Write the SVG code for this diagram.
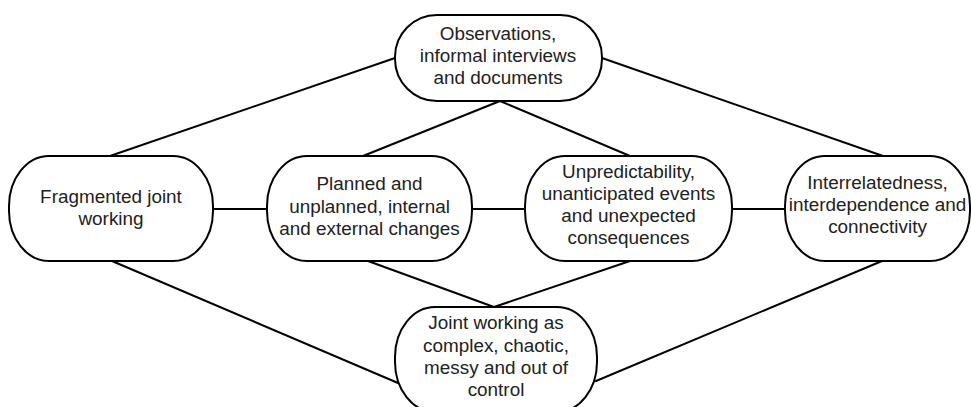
<svg xmlns="http://www.w3.org/2000/svg" width="971" height="407" viewBox="0 0 971 407">
  <style>
    .node rect { fill: #ffffff; stroke: #000000; stroke-width: 2; }
    .node text { font-family: "Liberation Sans", Arial, sans-serif; font-size: 18.9px; fill: #222222; text-anchor: middle; }
    .links line { stroke: #000000; stroke-width: 2; stroke-linecap: round; }
  </style>
  <rect width="971" height="407" fill="#ffffff"/>

  <!-- connectors -->
  <g class="links">
    <line x1="395" y1="58" x2="110" y2="156"/>
    <line x1="500" y1="101" x2="363" y2="156"/>
    <line x1="500" y1="101" x2="630" y2="156"/>
    <line x1="602" y1="58" x2="883" y2="156"/>
    <line x1="213" y1="209" x2="267" y2="209"/>
    <line x1="472" y1="209" x2="525" y2="209"/>
    <line x1="732" y1="209" x2="785" y2="209"/>
    <line x1="112" y1="261" x2="398" y2="383"/>
    <line x1="368" y1="261" x2="494" y2="307"/>
    <line x1="630" y1="261" x2="494" y2="307"/>
    <line x1="882" y1="261" x2="596" y2="381"/>
  </g>

  <g id="observations" class="node">
    <rect x="395" y="15" width="207" height="86" rx="42" ry="42"/>
    <text x="498" y="40">Observations,</text>
    <text x="498" y="62">informal interviews</text>
    <text x="498" y="84">and documents</text>
  </g>

  <g id="fragmented" class="node">
    <rect x="9" y="156" width="204" height="105" rx="40" ry="50"/>
    <text x="111" y="203">Fragmented joint</text>
    <text x="111" y="225">working</text>
  </g>

  <g id="changes" class="node">
    <rect x="267" y="156" width="205" height="105" rx="40" ry="50"/>
    <text x="369.5" y="190">Planned and</text>
    <text x="369.5" y="212.5">unplanned, internal</text>
    <text x="369.5" y="235">and external changes</text>
  </g>

  <g id="unpredictability" class="node">
    <rect x="525" y="156" width="207" height="105" rx="40" ry="50"/>
    <text x="628.5" y="178">Unpredictability,</text>
    <text x="628.5" y="200">unanticipated events</text>
    <text x="628.5" y="222">and unexpected</text>
    <text x="628.5" y="244">consequences</text>
  </g>

  <g id="interrelatedness" class="node">
    <rect x="785" y="156" width="185" height="105" rx="40" ry="50"/>
    <text x="877.5" y="189">Interrelatedness,</text>
    <text x="877.5" y="211">interdependence and</text>
    <text x="877.5" y="233">connectivity</text>
  </g>

  <g id="joint-working" class="node">
    <rect x="395" y="307" width="202" height="105" rx="40" ry="50"/>
    <text x="496" y="329">Joint working as</text>
    <text x="496" y="351.5">complex, chaotic,</text>
    <text x="496" y="374">messy and out of</text>
    <text x="496" y="396">control</text>
  </g>
</svg>
